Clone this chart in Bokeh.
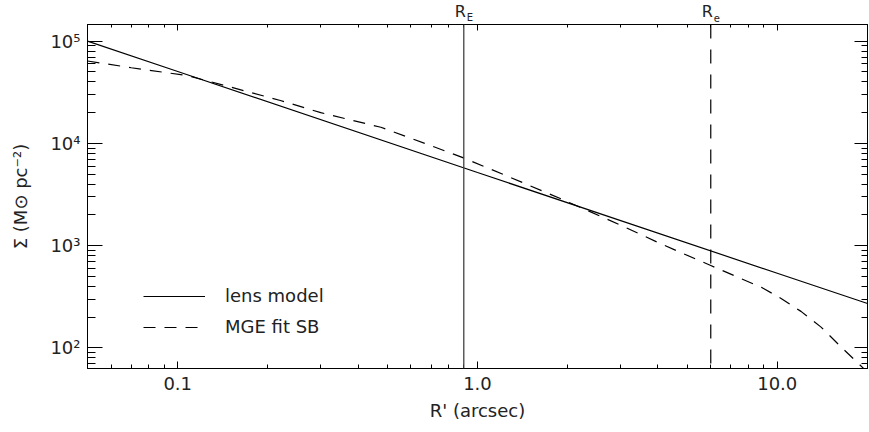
from bokeh.plotting import figure
from bokeh.layouts import column
from bokeh.models import (LogAxis, FixedTicker, Legend, LegendItem, Span,
                          CustomJSTickFormatter)
from bokeh.core.properties import value
from bokeh.embed import file_html
from bokeh.resources import INLINE

# ---- data ----
x_lens = [0.05, 0.1, 1.0, 10.0, 20.0]
y_lens = [1.0e5, 5.05e4, 5.2e3, 538, 272]

x_mge = [0.05, 0.07, 0.108, 0.15, 0.22, 0.3, 0.476, 0.7, 0.88, 1.3, 1.9,
         3.0, 4.1, 6.0, 8.85, 10.3, 12.0, 14.0, 16.4, 20.0]
y_mge = [6.4e4, 5.5e4, 4.6e4, 3.56e4, 2.63e4, 2.0e4, 1.44e4, 9.5e3, 7.4e3,
         4.6e3, 2.87e3, 1.59e3, 1.04e3, 640, 392, 305, 228, 160, 101, 58]

r_einstein = 0.90
r_eff = 6.0
marker_x = [r_einstein, r_eff]
marker_main = ["R", "R"]
marker_sub = ["E", "e"]

x_ticks = [0.1, 1.0, 10.0]
x_tick_labels = ["0.1", "1.0", "10.0"]
x_minor = [0.05, 0.06, 0.07, 0.08, 0.09,
           0.2, 0.3, 0.4, 0.5, 0.6, 0.7, 0.8, 0.9,
           2, 3, 4, 5, 6, 7, 8, 9, 20]
y_ticks = [1e2, 1e3, 1e4, 1e5]
y_tick_labels = ["10\u00b2", "10\u00b3", "10\u2074", "10\u2075"]
y_minor = [70, 80, 90,
           200, 300, 400, 500, 600, 700, 800, 900,
           2000, 3000, 4000, 5000, 6000, 7000, 8000, 9000,
           2e4, 3e4, 4e4, 5e4, 6e4, 7e4, 8e4, 9e4]

FONT = "DejaVu Sans"
TXT = "#222222"
FS = "18px"

p = figure(width=869, height=408, x_axis_type="log", y_axis_type="log",
           x_range=(0.05, 20.0), y_range=(63, 1.456e5),
           output_backend="svg", toolbar_location=None,
           min_border_left=87, min_border_right=2, min_border_top=0,
           min_border_bottom=64)
p.xgrid.visible = False
p.ygrid.visible = False
p.outline_line_color = "black"
p.background_fill_color = "white"
p.border_fill_color = "white"

def style(ax, maj, mnr):
    ax.major_tick_in = maj
    ax.major_tick_out = 0
    ax.minor_tick_in = mnr
    ax.minor_tick_out = 0
    ax.axis_line_color = "black"
    ax.major_tick_line_color = "black"
    ax.minor_tick_line_color = "black"
    ax.major_label_text_font = FONT
    ax.major_label_text_font_size = FS
    ax.major_label_text_color = TXT
    ax.axis_label_text_font = FONT
    ax.axis_label_text_font_size = FS
    ax.axis_label_text_font_style = "normal"
    ax.axis_label_text_color = TXT

xa = p.xaxis[0]
xa.ticker = FixedTicker(ticks=x_ticks, minor_ticks=x_minor)
xa.major_label_overrides = dict(zip(x_ticks, x_tick_labels))
style(xa, 7, 4)
xa.major_label_standoff = 8
xa.axis_label = "R' (arcsec)"
xa.axis_label_standoff = 7

ya = p.yaxis[0]
ya.ticker = FixedTicker(ticks=y_ticks, minor_ticks=y_minor)
ya.major_label_overrides = dict(zip(y_ticks, y_tick_labels))
style(ya, 15, 8)
ya.major_label_standoff = 7
ya.axis_label = "\u03a3 (M\u2299 pc\u207b\u00b2)"
ya.axis_label_standoff = 16

blank = CustomJSTickFormatter(code="return ''")
top = LogAxis(ticker=FixedTicker(ticks=x_ticks, minor_ticks=x_minor), formatter=blank)
style(top, 6, 3)
top.major_label_standoff = 0
p.add_layout(top, "above")
right = LogAxis(ticker=FixedTicker(ticks=y_ticks, minor_ticks=y_minor), formatter=blank)
style(right, 13, 6)
right.major_label_standoff = 0
p.add_layout(right, "right")

r1 = p.line(x_lens, y_lens, line_color="black", line_width=1.2)
r2 = p.line(x_mge, y_mge, line_color="black", line_width=1.2, line_dash="12 9")

p.add_layout(Span(location=r_einstein, dimension="height", line_color="#444444", line_width=1.3))
p.add_layout(Span(location=r_eff, dimension="height", line_color="black", line_width=1.2,
                  line_dash="14 11"))

legend = Legend(items=[LegendItem(label="lens model", renderers=[r1]),
                       LegendItem(label="MGE fit SB", renderers=[r2])],
                location=(56, 31), glyph_width=62, glyph_height=20, label_standoff=20,
                spacing=10, padding=0, margin=0, border_line_color=None,
                background_fill_alpha=0, label_text_font=FONT, label_text_font_size=FS,
                label_text_color=TXT)
p.add_layout(legend)

# strip above the plot carrying the R_E / R_e markers (shares the x scale)
t = figure(width=869, height=24, x_axis_type="log", x_range=p.x_range, y_range=(0, 24),
           output_backend="svg", toolbar_location=None,
           x_axis_location=None, y_axis_location=None,
           min_border_left=87, min_border_right=2, min_border_top=0, min_border_bottom=0)
t.xgrid.visible = False
t.ygrid.visible = False
t.outline_line_color = None
t.background_fill_color = "white"
t.border_fill_color = "white"
t.text(x=marker_x, y=[13, 13], text=marker_main, text_align="right", x_offset=2,
       text_baseline="middle", text_font=value(FONT), text_font_size="16px",
       text_color=TXT)
t.text(x=marker_x, y=[7, 7], text=marker_sub, text_align="left", x_offset=3,
       text_baseline="middle", text_font=value(FONT), text_font_size="10px",
       text_color=TXT)

layout = column(t, p, spacing=0)
open("out.html", "w").write(file_html(layout, INLINE))
